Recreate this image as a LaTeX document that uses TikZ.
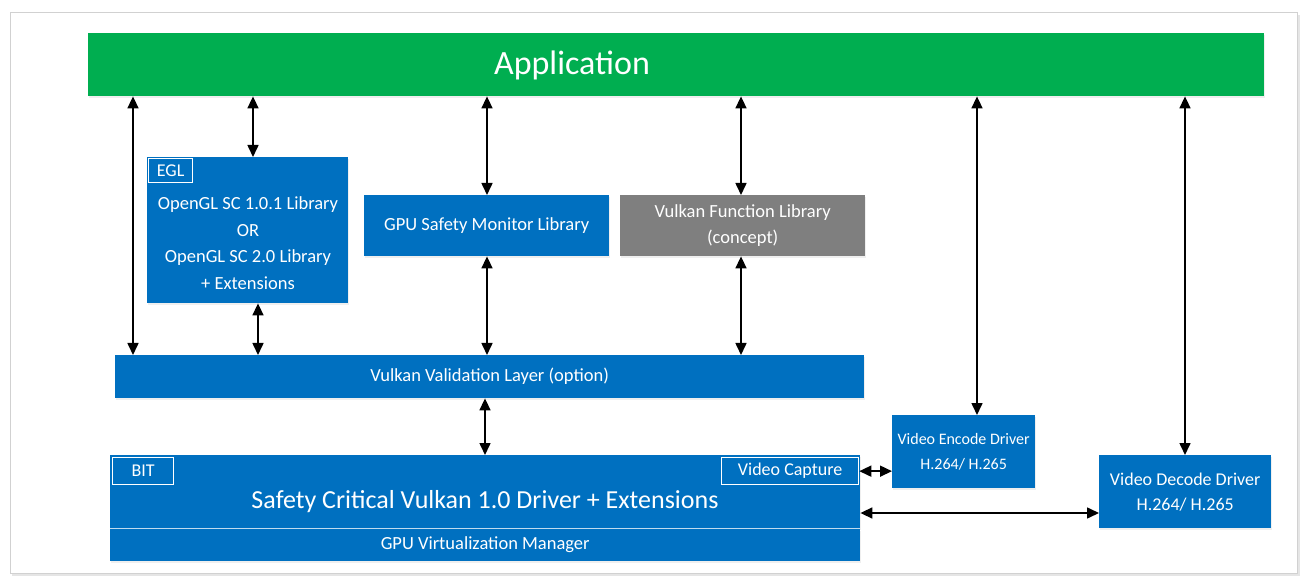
\documentclass[tikz,border=0pt]{standalone}
\usepackage{fontspec}
\setmainfont{Carlito}
\usetikzlibrary{arrows.meta,shadows}
\definecolor{appgreen}{RGB}{0,174,80}
\definecolor{vkblue}{RGB}{0,112,192}
\definecolor{fngray}{RGB}{127,127,127}

\begin{document}
\begin{tikzpicture}[x=1pt,y=-1pt,
  blk/.style={fill=vkblue,inner sep=0pt,anchor=north west,text=white,align=center,
    font=\fontsize{18.5}{26.5}\selectfont,drop shadow={opacity=0.12,shadow xshift=1pt,shadow yshift=-2pt}},
  txt/.style={inner sep=0pt,text=white,align=center,font=\fontsize{18.5}{26.5}\selectfont},
  tab/.style={draw=white,line width=1.3pt,inner sep=0pt,anchor=north west,text=white,
    font=\fontsize{18}{20}\selectfont},
  dbl/.style={{Triangle[length=12pt,width=11pt]}-{Triangle[length=12pt,width=11pt]},line width=1.6pt}]
\useasboundingbox (0,0) rectangle (1307,577);
% frame
\fill[black!10] (12,15) rectangle (1300,576);
\draw[black!18,fill=white] (10,12) rectangle (1297,573);

\node[blk,fill=appgreen,minimum width=1176,minimum height=63] (app) at (88,33) {};
\node[txt,font=\fontsize{34}{40}\selectfont] (apptext) at (572,65) {Application};

\node[blk,minimum width=201,minimum height=146] (opengl) at (147,157) {};
\node[txt] (opengltext) at (248,243) {OpenGL SC 1.0.1 Library\\OR\\OpenGL SC 2.0 Library\\+ Extensions};
\node[tab,minimum width=44,minimum height=24] (egl) at (148,158) {EGL};

\node[blk,minimum width=245,minimum height=61] (gsm) at (364,195) {GPU Safety Monitor Library};
\node[blk,fill=fngray,minimum width=245,minimum height=61] (vfl) at (620,195) {Vulkan Function Library\\(concept)};
\node[blk,minimum width=749,minimum height=43] (vvl) at (115,355) {Vulkan Validation Layer (option)};

\node[blk,minimum width=750,minimum height=73] (driver) at (110,455) {};
\node[blk,minimum width=750,minimum height=32] (gvm) at (110,528.5) {GPU Virtualization Manager};
\draw[white!75!vkblue,line width=0.8pt] (gvm.north west) -- (gvm.north east);
\node[txt,font=\fontsize{26}{30}\selectfont] (drivertext) at (485,502) {Safety Critical Vulkan 1.0 Driver + Extensions};
\node[tab,minimum width=61,minimum height=27] (bit) at (112,457) {BIT};
\node[tab,minimum width=137,minimum height=27] (capture) at (721,457) {Video Capture};

\node[blk,minimum width=143,minimum height=73,font=\fontsize{16}{25}\selectfont] (encode) at (892,415) {Video Encode Driver\\H.264/ H.265};
\node[blk,minimum width=172,minimum height=73,font=\fontsize{18}{25}\selectfont] (decode) at (1099,455) {Video Decode Driver\\H.264/ H.265};

% connectors
\coordinate (xa) at (133,0);
\coordinate (xb) at (253,0);
\coordinate (xc) at (258,0);
\coordinate (xd) at (487,0);
\coordinate (xe) at (741,0);
\coordinate (xf) at (485,0);
\coordinate (xg) at (977,0);
\coordinate (xh) at (1185,0);
\coordinate (yr) at (0,513);
\draw[dbl] (app.south -| xa) -- (vvl.north -| xa);
\draw[dbl] (app.south -| xb) -- (opengl.north -| xb);
\draw[dbl] (opengl.south -| xc) -- (vvl.north -| xc);
\draw[dbl] (app.south -| xd) -- (gsm.north -| xd);
\draw[dbl] (gsm.south -| xd) -- (vvl.north -| xd);
\draw[dbl] (app.south -| xe) -- (vfl.north -| xe);
\draw[dbl] (vfl.south -| xe) -- (vvl.north -| xe);
\draw[dbl] (vvl.south -| xf) -- (driver.north -| xf);
\draw[dbl] (app.south -| xg) -- (encode.north -| xg);
\draw[dbl] (app.south -| xh) -- (decode.north -| xh);
\draw[dbl] (capture.east) -- (capture.east -| encode.west);
\draw[dbl] (driver.east |- yr) -- (decode.west |- yr);
\end{tikzpicture}
\end{document}
